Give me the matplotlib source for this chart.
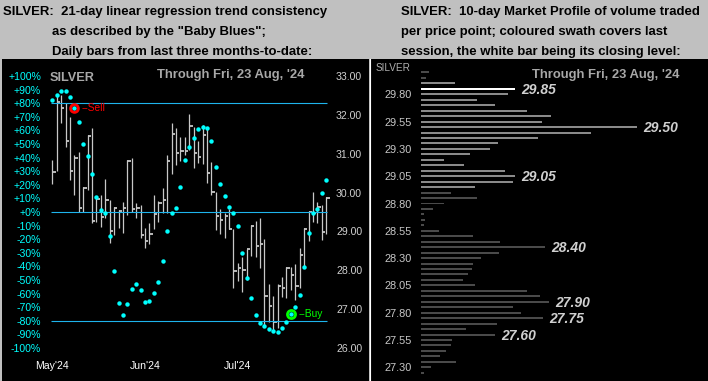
import numpy as np
import matplotlib.pyplot as plt
from matplotlib.lines import Line2D

plt.rcParams['font.family'] = ['Liberation Sans', 'DejaVu Sans']

# ---- left panel: daily bars (high / low / close) and the "Baby Blues" (%)
highs = [30.84, 32.51, 32.51, 32.30, 31.95, 30.97, 31.05, 30.15, 31.48, 31.67,
         29.85, 29.95, 30.35, 29.81, 29.62, 29.55, 29.77, 30.84, 30.88, 29.72,
         29.68, 29.08, 29.21, 29.94, 29.78, 30.11, 30.97, 31.78, 31.65, 31.44,
         31.44, 32.01, 31.70, 31.33, 31.74, 31.65, 30.78, 30.02, 29.59, 29.47,
         29.59, 29.06, 28.20, 28.33, 28.55, 29.17, 29.27, 29.34, 28.80, 27.64,
         27.35, 27.66, 27.83, 28.09, 28.09, 28.16, 28.57, 29.08, 29.53, 30.02,
         29.77, 29.68, 29.89]
lows = [30.22, 30.56, 31.78, 31.18, 30.32, 29.94, 29.51, 29.51, 30.07, 29.23,
        29.25, 29.12, 29.34, 28.71, 28.91, 29.10, 28.97, 29.42, 29.51, 29.35,
        28.84, 28.58, 28.67, 29.06, 29.25, 29.48, 29.48, 30.47, 30.71, 30.81,
        30.97, 31.10, 30.62, 30.77, 30.73, 30.25, 29.95, 29.04, 28.93, 28.82,
        29.06, 27.55, 27.72, 27.45, 27.75, 28.37, 28.33, 28.05, 26.59, 26.66,
        26.40, 26.52, 27.31, 27.28, 27.49, 27.24, 27.54, 28.07, 28.75, 29.25,
        29.23, 28.78, 28.93]
closes = [30.53, 32.32, 32.17, 31.34, 30.56, 30.88, 29.61, 30.13, 31.46, 29.28,
          29.83, 29.38, 29.81, 29.02, 29.61, 29.53, 29.61, 30.80, 29.58, 29.61,
          28.92, 28.76, 28.94, 29.44, 29.74, 29.82, 30.80, 31.52, 31.03, 31.08,
          31.08, 31.72, 31.03, 30.91, 31.48, 30.51, 30.02, 29.40, 29.29, 29.40,
          29.06, 27.97, 28.07, 28.01, 28.54, 29.15, 28.63, 28.68, 27.35, 27.09,
          26.68, 27.60, 27.54, 28.07, 27.88, 27.60, 28.39, 29.06, 29.49, 29.47,
          29.64, 28.99, 29.87]
blues = [82.5, 86.1, 89.3, 89.3, 84.7, 76.8, 65.9, 50.2, 40.9, 28.2,
         11.4, 1.8, -0.9, -18.0, -43.6, -67.1, -75.9, -67.8, -56.8, -53.1,
         -57.5, -66.3, -65.6, -59.7, -51.7, -36.3, -13.6, -0.4, 2.6, 18.7,
         38.5, 47.5, 54.6, 60.7, 62.7, 61.5, 52.4, 33.4, 20.9, 12.1,
         4.0, -0.4, -10.6, -30.4, -48.7, -63.4, -75.9, -81.7, -83.9, -86.1,
         -87.6, -88.3, -85.4, -81.0, -75.1, -70.0, -61.2, -40.7, -15.8, -0.8,
         2.1, 13.8, 23.4]
sell_bar = 5
buy_bar = 54
trend_levels = [80, 0, -80]

price_ticks = [33, 32, 31, 30, 29, 28, 27, 26]
pct_ticks = [100, 90, 80, 70, 60, 50, 40, 30, 20, 10, 0,
             -10, -20, -30, -40, -50, -60, -70, -80, -90, -100]
pct_labels = ['+100%', '+90%', '+80%', '+70%', '+60%', '+50%', '+40%', '+30%',
              '+20%', '+10%', '+0%', '-10%', '-20%', '-30%', '-40%', '-50%',
              '-60%', '-70%', '-80%', '-90%', '-100%']
month_pos = [0, 21, 42]
month_labels = ["May'24", "Jun'24", "Jul'24"]

# ---- right panel: 10-day market profile
profile_prices = [30.00, 29.95, 29.90, 29.85, 29.80, 29.75, 29.70, 29.65, 29.60, 29.55,
                  29.50, 29.45, 29.40, 29.35, 29.30, 29.25, 29.20, 29.15, 29.10, 29.05,
                  29.00, 28.95, 28.90, 28.85, 28.80, 28.75, 28.70, 28.65, 28.60, 28.55,
                  28.50, 28.45, 28.40, 28.35, 28.30, 28.25, 28.20, 28.15, 28.10, 28.05,
                  28.00, 27.95, 27.90, 27.85, 27.80, 27.75, 27.70, 27.65, 27.60, 27.55,
                  27.50, 27.45, 27.40, 27.35, 27.30, 27.25]
profile_volume = [8, 5, 34, 94, 87, 56, 74, 106, 130, 121,
                  216, 170, 117, 77, 69, 49, 23, 43, 84, 94,
                  92, 54, 30, 56, 23, 12, 3, 4, 3, 18,
                  52, 79, 124, 78, 60, 52, 51, 47, 42, 54,
                  106, 119, 128, 92, 100, 122, 76, 45, 74, 31,
                  30, 25, 19, 35, 10, 3]
session_low = 28.95
session_high = 29.90
close_level = 29.85
labelled_levels = [29.85, 29.50, 29.05, 28.40, 27.90, 27.75, 27.60]
profile_ticks = [29.80, 29.55, 29.30, 29.05, 28.80, 28.55, 28.30, 28.05, 27.80, 27.55, 27.30]

W, H = 708, 381
fig = plt.figure(figsize=(W / 100, H / 100), dpi=100, facecolor='#C0C0C0')


def px_axes(x0, y0, x1, y1):
    return fig.add_axes([x0 / W, 1 - y1 / H, (x1 - x0) / W, (y1 - y0) / H])


def px_text(x, y, s, **kw):
    fig.text(x / W, 1 - y / H, s, **kw)


# headers
hdr = dict(fontsize=9.45, fontweight='bold', color='black', va='baseline')
px_text(3, 15, 'SILVER:  21-day linear regression trend consistency', **hdr)
px_text(52, 35, 'as described by the "Baby Blues";', **hdr)
px_text(52, 55, 'Daily bars from last three months-to-date:', **hdr)
px_text(401, 15, 'SILVER:  10-day Market Profile of volume traded', **hdr)
px_text(401, 35, 'per price point; coloured swath covers last', **hdr)
px_text(401, 55, 'session, the white bar being its closing level:', **hdr)

# ---------------- left panel
ax = px_axes(2, 59, 369, 381)
ax2 = ax.twinx()
ax.set_facecolor('black')
step = 4.418
x0 = 52.3
ax.set_xlim((2 - x0) / step, (369 - x0) / step)
ax.set_ylim(33 - 305 / 38.86, 33 + 17 / 38.86)
for s in ax.spines.values():
    s.set_visible(False)

idx = np.arange(len(closes))
ax.vlines(idx, lows, highs, color='#C8C8C8', lw=0.9)
ax.hlines(closes, idx, idx + 0.75, color='#C8C8C8', lw=1.3)

ax.yaxis.tick_right()
ax.set_yticks(price_ticks)
ax.set_yticklabels([f'{p:.2f}' for p in price_ticks])
ax.tick_params(axis='y', length=0, pad=-(369 - 336) * 0.72, labelsize=7.6,
               labelcolor='#D0D0D0')
ax.set_xticks([])
for p, lab in zip(month_pos, month_labels):
    ax.text(p, (381 - 369) / 322, lab, transform=ax.get_xaxis_transform(),
            ha='center', va='baseline', color='white', fontsize=7.6)

lo, hi = ax.get_ylim()
ax2.set_ylim((lo - 29.5) / 0.035, (hi - 29.5) / 0.035)
for s in ax2.spines.values():
    s.set_visible(False)
ax2.yaxis.tick_left()
ax2.set_yticks(pct_ticks)
ax2.set_yticklabels(pct_labels)
ax2.tick_params(axis='y', length=0, pad=-(41 - 2) * 0.72, labelsize=7.6,
                labelcolor='#00FFFF')

ax2.hlines(trend_levels, -0.3, 62.2, color='#1EB4EC', lw=0.8)
ax2.plot(idx, blues, 'o', color='#00FFFF', ms=3.2, mew=0)

ax2.plot(sell_bar, blues[sell_bar], 'o', mfc='none', mec='#FF0000', ms=5.6, mew=2)
ax2.annotate('--Sell', (sell_bar, blues[sell_bar]), xytext=(5.3, 0),
             textcoords='offset points', va='center', color='#FF0000', fontsize=7.4)
ax2.plot(buy_bar, blues[buy_bar], 'o', mfc='none', mec='#00FF00', ms=5.8, mew=2)
ax2.annotate('--Buy', (buy_bar, blues[buy_bar]), xytext=(5.6, 0),
             textcoords='offset points', va='center', color='#00FF00', fontsize=7.4)

ax.text((50 - 2) / 367, (381 - 80.7) / 322, 'SILVER', transform=ax.transAxes,
        color='#A8A8A8', fontsize=9.2, fontweight='bold', va='baseline')
ax.text((157 - 2) / 367, (381 - 78.3) / 322, "Through Fri, 23 Aug, '24",
        transform=ax.transAxes, color='#A8A8A8', fontsize=9.4,
        fontweight='bold', va='baseline')

# separator
fig.add_artist(Line2D([369.5 / W, 369.5 / W], [0, 1 - 59 / H], color='white', lw=0.8))

# ---------------- right panel
axr = px_axes(370, 59, 708, 381)
axr.set_facecolor('black')
axr.set_xlim(370 - 421, 708 - 421)
axr.set_ylim(29.80 - 286.7 / 109.2, 29.80 + 35.3 / 109.2)
for s in axr.spines.values():
    s.set_visible(False)

colors = []
for p in profile_prices:
    if abs(p - close_level) < 1e-6:
        colors.append('white')
    elif session_low - 1e-6 <= p <= session_high + 1e-6:
        colors.append('#8A8A8A')
    else:
        colors.append('#4A4A4A')
axr.barh(profile_prices, profile_volume, height=0.018, left=0, color=colors)

for lvl in labelled_levels:
    v = profile_volume[profile_prices.index(lvl)]
    axr.annotate(f'{lvl:.2f}', (v, lvl), xytext=(4.2, -0.8), textcoords='offset points',
                 va='center', ha='left', color='#D0D0D0', fontsize=10,
                 fontweight='bold', fontstyle='italic')

axr.set_xticks([])
axr.set_yticks(profile_ticks)
axr.set_yticklabels([f'{p:.2f}' for p in profile_ticks])
axr.tick_params(axis='y', length=0, pad=-(412 - 370) * 0.72, labelsize=7.9,
                labelcolor='#C8C8C8')
axr.text((376 - 370) / 338, (381 - 71) / 322, 'SILVER', transform=axr.transAxes,
         color='#B0B0B0', fontsize=7.2, va='baseline')
axr.text((532 - 370) / 338, (381 - 78.3) / 322, "Through Fri, 23 Aug, '24",
         transform=axr.transAxes, color='#A8A8A8', fontsize=9.4,
         fontweight='bold', va='baseline')

fig.savefig('out.png', dpi=100, facecolor=fig.get_facecolor())
